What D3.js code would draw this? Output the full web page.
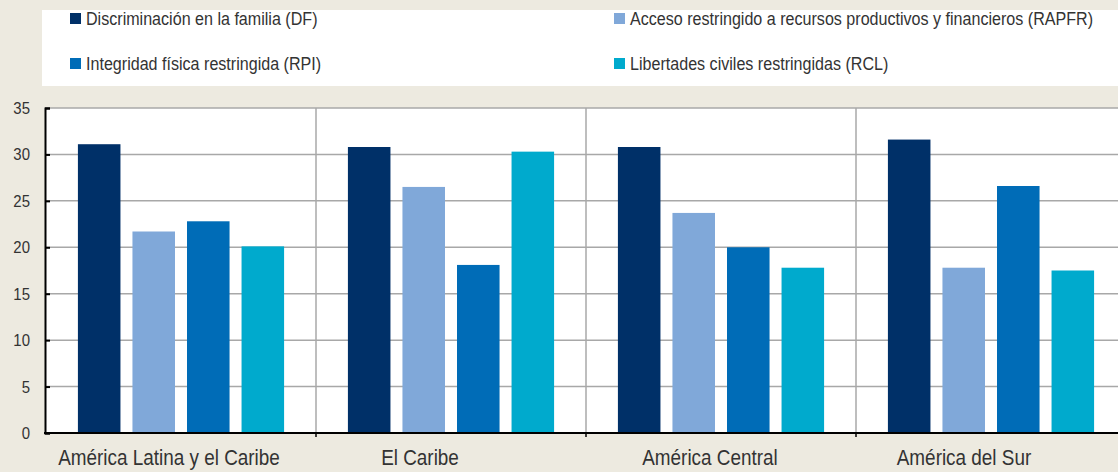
<!DOCTYPE html>
<html><head><meta charset="utf-8">
<script src="https://cdn.jsdelivr.net/npm/d3@7"></script>
<style>
html,body{margin:0;padding:0;background:#edeae0;}
svg{display:block;}
text{font-family:"Liberation Sans Narrow","Arial Narrow","Liberation Sans",sans-serif;fill:#333;}
</style></head>
<body>
<svg id="chart" width="1118" height="472"></svg>
<script>
const categories = ["América Latina y el Caribe", "El Caribe", "América Central", "América del Sur"];
const seriesNames = [
  "Discriminación en la familia (DF)",
  "Acceso restringido a recursos productivos y financieros (RAPFR)",
  "Integridad física restringida (RPI)",
  "Libertades civiles restringidas (RCL)"
];
const seriesKeys = ["DF", "RAPFR", "RPI", "RCL"];
const DF    = [31.1, 30.8, 30.8, 31.6];
const RAPFR = [21.7, 26.5, 23.7, 17.8];
const RPI   = [22.8, 18.1, 20.0, 26.6];
const RCL   = [20.1, 30.3, 17.8, 17.5];
const colors = ["#003068", "#80a8d9", "#006cb7", "#00aacd"];
const yTicks = [0, 5, 10, 15, 20, 25, 30, 35];

(function () {
const values = {DF, RAPFR, RPI, RCL};
const svg = d3.select("#chart");
const FONT = '"Liberation Sans Narrow","Arial Narrow","Liberation Sans",sans-serif';

// legend box
svg.append("rect").attr("x", 42).attr("y", 10).attr("width", 1090).attr("height", 76).attr("fill", "#fff");
const legendPos = [[70, 18], [614, 18], [70, 63], [614, 63]];
seriesNames.forEach((name, i) => {
  const [lx, ly] = legendPos[i];
  svg.append("rect").attr("x", lx).attr("y", ly - 5).attr("width", 11).attr("height", 11).attr("fill", colors[i]);
  svg.append("text").attr("transform", `translate(${lx + 16},${ly + 7}) scale(0.87,1)`)
    .attr("font-size", 18.5).text(name);
});

const mLeft = 45, mRight = 1126, mTop = 108, mBottom = 433;
const y = d3.scaleLinear().domain([0, 35]).range([mBottom, mTop]);
const x0 = d3.scaleBand().domain(categories).range([mLeft + 1, mRight]).paddingInner(0).paddingOuter(0);
const x1 = d3.scaleBand().domain(seriesKeys).range([0, x0.bandwidth()]).paddingInner(0.22).paddingOuter(0.585);

// plot area
svg.append("rect").attr("x", mLeft).attr("y", mTop).attr("width", mRight - mLeft).attr("height", mBottom - mTop).attr("fill", "#fff");

// gridlines
svg.append("g").selectAll("line").data(yTicks.filter(d => d > 0)).join("line")
  .attr("x1", mLeft).attr("x2", mRight).attr("y1", d => y(d)).attr("y2", d => y(d))
  .attr("stroke", "#a8a8a8").attr("stroke-width", 1.5);

// vertical separators
svg.append("g").selectAll("line").data(categories.slice(1)).join("line")
  .attr("x1", d => x0(d)).attr("x2", d => x0(d)).attr("y1", mTop).attr("y2", mBottom)
  .attr("stroke", "#a8a8a8").attr("stroke-width", 1.5);

// bars
const groups = svg.append("g").selectAll("g").data(categories).join("g")
  .attr("transform", d => `translate(${x0(d)},0)`);
groups.selectAll("rect").data((c, ci) => seriesKeys.map((k, si) => ({k, si, v: values[k][ci]}))).join("rect")
  .attr("x", d => x1(d.k)).attr("width", x1.bandwidth())
  .attr("y", d => y(d.v)).attr("height", d => y(0) - y(d.v))
  .attr("fill", d => colors[d.si]);

// y axis
const yAxis = d3.axisLeft(y).tickValues(yTicks).tickSize(-5).tickPadding(0);
const gy = svg.append("g").attr("transform", `translate(${mLeft},0)`).call(yAxis);
gy.select(".domain").attr("stroke", "#000").attr("stroke-width", 2);
gy.selectAll(".tick line").attr("stroke", "#000").attr("stroke-width", 2);
gy.selectAll(".tick text").attr("x", null).attr("transform", "translate(-15,0) scale(0.88,1)")
  .attr("font-size", 17).attr("fill", "#333").style("font-family", FONT);

// x axis
const xAxis = d3.axisBottom(x0).tickSize(0).tickPadding(0);
const gx = svg.append("g").attr("transform", `translate(0,${mBottom})`).call(xAxis);
gx.select(".domain").remove();
svg.append("line").attr("x1", mLeft - 1).attr("x2", mRight).attr("y1", mBottom).attr("y2", mBottom).attr("stroke", "#000").attr("stroke-width", 2);
svg.append("g").selectAll("line").data(categories.slice(1)).join("line")
  .attr("x1", d => x0(d)).attr("x2", d => x0(d)).attr("y1", mBottom).attr("y2", mBottom + 4)
  .attr("stroke", "#000").attr("stroke-width", 1.5);
// label horizontal nudges (layout, as in the original)
const labelNudge = [-12, -31, -11, -27];
gx.selectAll(".tick text").attr("y", null).attr("dy", null)
  .attr("transform", (d, i) => `translate(${labelNudge[i]},32) scale(0.86,1)`)
  .attr("font-size", 22).attr("fill", "#333").style("font-family", FONT);
})();
</script>
</body></html>
